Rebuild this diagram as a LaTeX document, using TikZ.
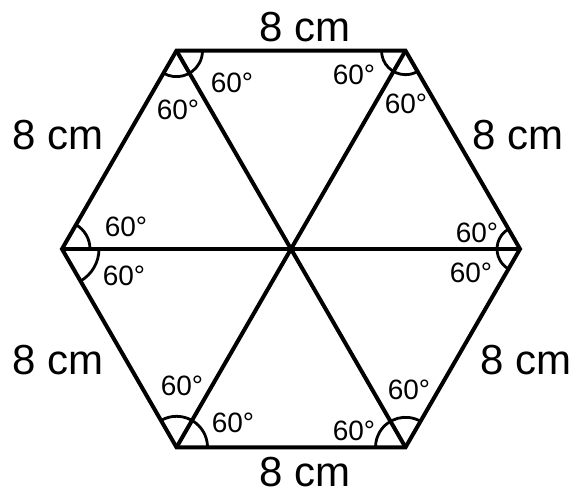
\documentclass[tikz,border=0pt]{standalone}
\usepackage{fontspec}
\setmainfont{Liberation Sans}
\begin{document}
\begin{tikzpicture}[x=1pt,y=1pt,
  edge/.style={line width=4pt,line join=miter},
  anglearc/.style={line width=2.8pt},
  side/.style={font=\fontsize{42}{48}\selectfont,inner sep=0pt},
  ang/.style={font=\fontsize{28}{32}\selectfont,inner sep=0pt}]
\useasboundingbox (0,0) rectangle (573,497);
\coordinate (O) at (291,248);
\path (O) ++(0:229) coordinate (R)
      (O) ++(60:229) coordinate (TR)
      (O) ++(120:229) coordinate (TL)
      (O) ++(180:229) coordinate (L)
      (O) ++(240:229) coordinate (BL)
      (O) ++(300:229) coordinate (BR);
% angle arcs
\draw[anglearc] (TL) ++(240:26) arc[start angle=240,end angle=360,radius=26];
\draw[anglearc] (TR) ++(180:24) arc[start angle=180,end angle=300,radius=24];
\draw[anglearc] (L) ++(0:28) arc[start angle=0,end angle=60,radius=28];
\draw[anglearc] (L) ++(-60:37) arc[start angle=-60,end angle=0,radius=37];
\draw[anglearc] (R) ++(120:23) arc[start angle=120,end angle=240,radius=23];
\draw[anglearc] (BL) ++(0:31) arc[start angle=0,end angle=120,radius=31];
\draw[anglearc] (BR) ++(60:30) arc[start angle=60,end angle=180,radius=30];
% hexagon and diagonals
\draw[edge] (R) -- (TR) -- (TL) -- (L) -- (BL) -- (BR) -- cycle;
\draw[edge] (R) -- (L);
\draw[edge] (TR) -- (BL);
\draw[edge] (TL) -- (BR);
% side labels
\node[side] (s1) at (305,470) {8 cm};
\node[side] (s2) at (58,362) {8 cm};
\node[side] (s3) at (518,362) {8 cm};
\node[side] (s4) at (58,137) {8 cm};
\node[side] (s5) at (526,137) {8 cm};
\node[side] (s6) at (305,25) {8 cm};
% angle labels
\node[ang] (a1) at (232,414) {60°};
\node[ang] (a2) at (178,387) {60°};
\node[ang] (a3) at (354,422) {60°};
\node[ang] (a4) at (406,393) {60°};
\node[ang] (a5) at (126,270) {60°};
\node[ang] (a6) at (124,221) {60°};
\node[ang] (a7) at (477,264) {60°};
\node[ang] (a8) at (471,224) {60°};
\node[ang] (a9) at (182,111) {60°};
\node[ang] (a10) at (233,74) {60°};
\node[ang] (a11) at (409,107) {60°};
\node[ang] (a12) at (354,66) {60°};
\end{tikzpicture}
\end{document}
